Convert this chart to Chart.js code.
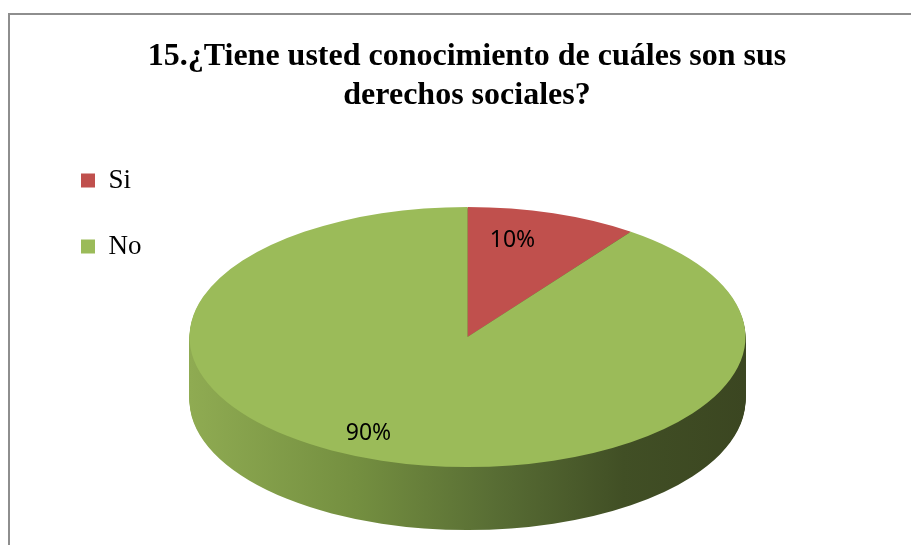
<!DOCTYPE html>
<html>
<head>
<meta charset="utf-8">
<script src="https://cdn.jsdelivr.net/npm/chart.js@4.4.1/dist/chart.umd.min.js"></script>
<style>
    body { margin: 0; background: #fff; overflow: hidden; }
    .frame { position: absolute; left: 8px; top: 13px; width: 1000px; height: 1000px;
             border-left: 2px solid #8e8e8e; border-top: 2px solid #8e8e8e; }
    #chart { position: absolute; left: 0; top: 0; }
</style>
</head>
<body>
<div class="frame"></div>
<canvas id="chart" width="911" height="545"></canvas>
<script>
// chart data
const categories = ['Si', 'No'];
const values = [10, 90];
const colors = ['#C0504D', '#9BBB59'];
const titleLines = ['15.¿Tiene usted conocimiento de cuáles son sus', 'derechos sociales?'];

// where the tilted pie sits on the page
const PIE_CX = 467.5;
const PIE_CY = 337;
const PIE_RX = 278;
const PIE_RY = 130;
const PIE_DEPTH = 63;
const labelNudge = [[-22, 0], [-32, 0]];

//Draws the pie flattened with a side wall, and the percent labels
const pie3d = {
    id: 'pie3d',
    beforeDatasetsDraw(chart) {
        const ctx = chart.ctx;
        const meta = chart.getDatasetMeta(0);
        const first = meta.data[0];
        const R = first.outerRadius, x0 = first.x, y0 = first.y;

        ctx.save();
        ctx.translate(PIE_CX, PIE_CY);
        ctx.scale(PIE_RX / R, PIE_RY / R);
        ctx.translate(-x0, -y0);

        //Side wall shading, light on the left and dark on the right
        const grad = ctx.createLinearGradient(x0 - R, 0, x0 + R, 0);
        grad.addColorStop(0, '#8fab52');
        grad.addColorStop(0.3, '#748f40');
        grad.addColorStop(0.55, '#586d34');
        grad.addColorStop(0.78, '#414f25');
        grad.addColorStop(1, '#3b4621');

        for (let d = PIE_DEPTH; d > 0; d--) {
            ctx.save();
            ctx.translate(0, d * R / PIE_RY);
            meta.data.forEach((a) => {
                const bg = a.options.backgroundColor;
                a.options.backgroundColor = grad;
                a.draw(ctx);
                a.options.backgroundColor = bg;
            });
            ctx.restore();
        }
    },
    afterDatasetsDraw(chart) {
        const ctx = chart.ctx;
        ctx.restore();

        const meta = chart.getDatasetMeta(0);
        const total = values.reduce((s, v) => s + v, 0);
        ctx.save();
        ctx.font = '23px "Noto Sans", "Open Sans", sans-serif';
        ctx.fillStyle = '#000';
        ctx.textAlign = 'center';
        ctx.textBaseline = 'middle';
        meta.data.forEach((a, i) => {
            const mid = (a.startAngle + a.endAngle) / 2;
            const x = PIE_CX + Math.cos(mid) * 0.78 * PIE_RX + labelNudge[i][0];
            const y = PIE_CY + Math.sin(mid) * 0.78 * PIE_RY + labelNudge[i][1];
            ctx.fillText(Math.round(values[i] / total * 100) + '%', x, y);
        });
        ctx.restore();
    }
};

new Chart(document.getElementById('chart'), {
    type: 'pie',
    data: {
        labels: categories,
        datasets: [{
            data: values,
            backgroundColor: colors,
            borderWidth: 0
        }]
    },
    options: {
        responsive: false,
        animation: false,
        layout: {
            padding: { left: 42, right: 19, top: 0, bottom: 118 }
        },
        plugins: {
            title: {
                display: true,
                text: titleLines,
                color: '#000',
                font: { family: '"Liberation Serif", "Times New Roman", serif', size: 32, weight: 'bold', lineHeight: 1.22 },
                padding: { top: 37, bottom: 10 }
            },
            legend: {
                position: 'left',
                align: 'center',
                labels: {
                    color: '#000',
                    boxWidth: 14,
                    boxHeight: 14,
                    padding: 39,
                    font: { family: '"Liberation Serif", "Times New Roman", serif', size: 27 }
                }
            },
            tooltip: { enabled: false }
        }
    },
    plugins: [pie3d]
});
</script>
</body>
</html>
